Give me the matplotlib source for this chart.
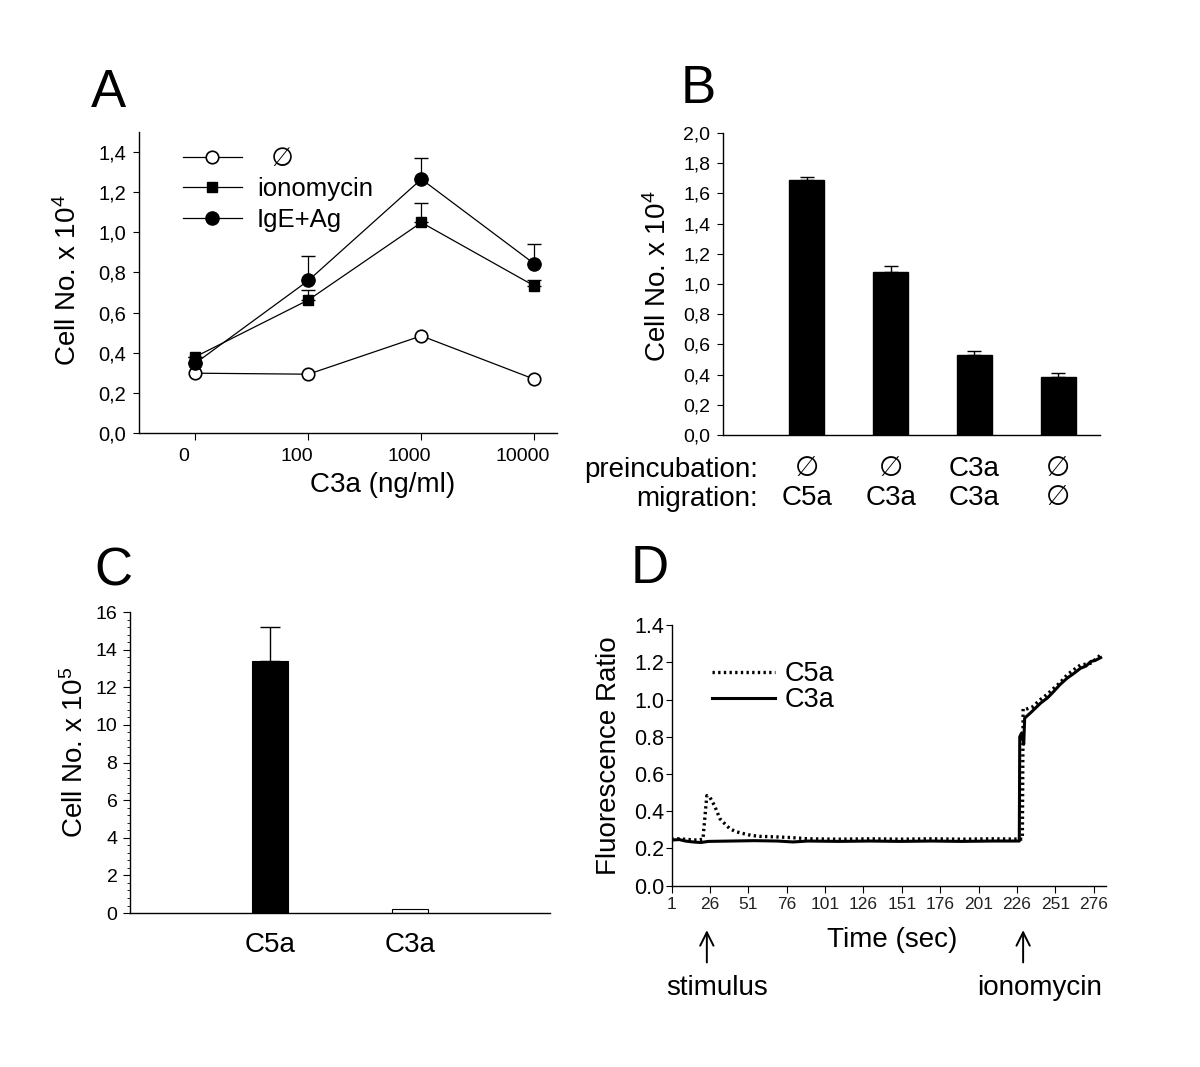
import matplotlib
matplotlib.use("Agg")
import matplotlib.pyplot as plt
import matplotlib.transforms as mtransforms

plt.rcParams['font.family'] = ['Liberation Sans', 'DejaVu Sans']
plt.rcParams['mathtext.fontset'] = 'custom'
plt.rcParams['mathtext.rm'] = 'Liberation Sans'
plt.rcParams['mathtext.it'] = 'Liberation Sans'

# Panel A : migration vs C3a dose
dose_labels = ["0", "100", "1000", "10000"]
none_vals = [0.298, 0.293, 0.484, 0.268]
iono_vals = [0.38, 0.663, 1.049, 0.733]
iono_err = [0.0, 0.05, 0.097, 0.027]
ige_vals = [0.348, 0.76, 1.265, 0.843]
ige_err = [0.0, 0.12, 0.105, 0.10]
a_yticks = ["0,0", "0,2", "0,4", "0,6", "0,8", "1,0", "1,2", "1,4"]

# Panel B : preincubation / migration bars
b_vals = [1.69, 1.08, 0.53, 0.385]
b_err = [0.02, 0.04, 0.025, 0.025]
b_preinc = ["∅", "∅", "C3a", "∅"]
b_migr = ["C5a", "C3a", "C3a", "∅"]
b_yticks = ["0,0", "0,2", "0,4", "0,6", "0,8", "1,0", "1,2", "1,4", "1,6", "1,8", "2,0"]

# Panel C
c_names = ["C5a", "C3a"]
c_vals = [13.4, 0.2]
c_err = [1.8, 0.0]

# Panel D : fluorescence traces
c5a_t = [1, 6, 12, 18, 21.5, 22, 24, 26, 29, 32.5, 36, 39, 43, 47.8, 53, 58.7, 70, 80, 90,
         110, 130, 150, 170, 190, 210, 229.5, 230.0, 231.3, 236, 241.3, 246, 250, 254,
         258.7, 263, 267.4, 271, 274, 277, 280.5]
c5a_v = [0.25, 0.252, 0.248, 0.245, 0.25, 0.30, 0.484, 0.475, 0.43, 0.36, 0.33, 0.306, 0.29,
         0.28, 0.27, 0.265, 0.262, 0.258, 0.252, 0.25, 0.252, 0.25, 0.252, 0.25, 0.252, 0.25,
         0.95, 0.946, 0.96, 1.0, 1.03, 1.061, 1.09, 1.133, 1.16, 1.186, 1.19, 1.195, 1.215, 1.24]
c3a_t = [1, 6, 10, 15, 20, 25, 40, 55, 70, 80, 90, 110, 130, 150, 170, 190, 210, 227.5, 227.8,
         229, 230.4, 231, 235, 241.3, 246, 250, 254, 258.7, 263, 267.4, 271, 274, 277, 280.5]
c3a_v = [0.245, 0.248, 0.24, 0.235, 0.232, 0.238, 0.24, 0.242, 0.24, 0.235, 0.24, 0.238, 0.24,
         0.238, 0.24, 0.238, 0.24, 0.24, 0.80, 0.82, 0.76, 0.90, 0.93, 0.98, 1.01, 1.044, 1.08,
         1.115, 1.14, 1.168, 1.18, 1.204, 1.21, 1.225]
d_xticks = [1, 26, 51, 76, 101, 126, 151, 176, 201, 226, 251, 276]
d_yticks = ["0.0", "0.2", "0.4", "0.6", "0.8", "1.0", "1.2", "1.4"]

fig = plt.figure(figsize=(12, 10.67), dpi=100)

def clean(ax):
    ax.spines['top'].set_visible(False)
    ax.spines['right'].set_visible(False)
    for s in ['left', 'bottom']:
        ax.spines[s].set_linewidth(1.0)

# ---------------- A
axA = fig.add_axes([0.1158, 0.5942, 0.3483, 0.2821])
clean(axA)
xs = list(range(len(dose_labels)))
axA.errorbar(xs, iono_vals, yerr=[[0] * 4, iono_err], fmt='none', ecolor='black',
             elinewidth=0.9, capsize=5, zorder=2)
axA.errorbar(xs, ige_vals, yerr=[[0] * 4, ige_err], fmt='none', ecolor='black',
             elinewidth=0.9, capsize=5, zorder=2)
axA.plot(xs, none_vals, '-o', color='black', mfc='white', mec='black', ms=9, lw=0.9,
         mew=1.2, label="  ∅", zorder=3)
axA.plot(xs, iono_vals, '-s', color='black', ms=7.5, lw=0.9, label="ionomycin", zorder=4)
axA.plot(xs, ige_vals, '-o', color='black', ms=9.5, lw=0.9, label="IgE+Ag", zorder=5)
axA.set_xlim(-0.5, 3.2)
axA.set_ylim(0, 1.5)
axA.set_xticks(xs)
axA.set_xticklabels(dose_labels, fontsize=14)
axA.set_yticks([i * 0.2 for i in range(8)])
axA.set_yticklabels(a_yticks, fontsize=14.5)
axA.tick_params(axis='x', direction='out', length=5, pad=6)
axA.tick_params(axis='y', direction='out', length=4, pad=5)
off = mtransforms.ScaledTranslation(-12 / 100, 0, fig.dpi_scale_trans)
for lab in axA.get_xticklabels():
    lab.set_transform(lab.get_transform() + off)
axA.set_xlabel("C3a (ng/ml)", fontsize=20)
axA.xaxis.label.set_va('center')
axA.xaxis.set_label_coords(0.584, -0.173)
axA.set_ylabel("Cell No. x 10$^4$", fontsize=20)
axA.yaxis.label.set_va('center')
axA.yaxis.set_label_coords(-0.170, 0.508)
axA.legend(loc='upper left', bbox_to_anchor=(0.105, 0.95), frameon=False, fontsize=18.5,
           handlelength=2.3, handletextpad=0.58, labelspacing=0.25, borderpad=0,
           borderaxespad=0)

# ---------------- B
axB = fig.add_axes([0.6025, 0.5923, 0.3142, 0.2830])
clean(axB)
bx = [1, 2, 3, 4]
axB.bar(bx, b_vals, width=0.42, color='black', edgecolor='black')
axB.errorbar(bx, b_vals, yerr=[[0] * 4, b_err], fmt='none', ecolor='black',
             elinewidth=1.0, capsize=5)
axB.set_xlim(0, 4.5)
axB.set_ylim(0, 2.0)
axB.set_yticks([i * 0.2 for i in range(11)])
axB.set_yticklabels(b_yticks, fontsize=14)
axB.tick_params(axis='y', direction='out', length=4, pad=5)
axB.set_xticks(bx)
axB.set_xticklabels([p + "\n" + m for p, m in zip(b_preinc, b_migr)], fontsize=20,
                    linespacing=1.15)
axB.tick_params(axis='x', length=0, pad=15)
axB.text(0.093, -0.116, "preincubation:", transform=axB.transAxes, fontsize=20,
         ha='right', va='center')
axB.text(0.093, -0.212, "migration:", transform=axB.transAxes, fontsize=20,
         ha='right', va='center')
axB.set_ylabel("Cell No. x 10$^4$", fontsize=20)
axB.yaxis.label.set_va('center')
axB.yaxis.set_label_coords(-0.172, 0.527)

# ---------------- C
axC = fig.add_axes([0.1083, 0.1443, 0.35, 0.2821])
clean(axC)
cx = [1, 2]
axC.bar(cx, c_vals, width=0.26, color=['black', 'white'], edgecolor='black', linewidth=0.8)
axC.errorbar(cx[:1], c_vals[:1], yerr=[[0], c_err[:1]], fmt='none', ecolor='black',
             elinewidth=1.0, capsize=7)
axC.set_xlim(0, 3)
axC.set_ylim(0, 16)
axC.set_yticks(range(0, 17, 2))
axC.set_yticks([i * 0.4 for i in range(41)], minor=True)
axC.tick_params(axis='y', which='major', direction='out', length=5, labelsize=14, pad=4)
axC.tick_params(axis='y', which='minor', direction='out', length=2.5, width=0.6)
axC.set_xticks(cx)
axC.set_xticklabels(c_names, fontsize=20)
axC.tick_params(axis='x', length=0, pad=14)
axC.set_ylabel("Cell No. x 10$^5$", fontsize=20)
axC.yaxis.label.set_va('center')
axC.yaxis.set_label_coords(-0.131, 0.535)

# ---------------- D
axD = fig.add_axes([0.5596, 0.1699, 0.3621, 0.2443])
clean(axD)
axD.plot(c5a_t, c5a_v, color='black', lw=2.4, linestyle=(0, (0.7, 1.0)), label="C5a")
axD.plot(c3a_t, c3a_v, color='black', lw=2.2, linestyle='-', label="C3a")
axD.set_xlim(1, 284)
axD.set_ylim(0, 1.4)
axD.set_xticks(d_xticks)
axD.set_xticklabels([str(t) for t in d_xticks], fontsize=12.5, color='#222222')
axD.set_yticks([i * 0.2 for i in range(8)])
axD.set_yticklabels(d_yticks, fontsize=15.5)
axD.tick_params(axis='x', direction='out', length=5, pad=3)
axD.tick_params(axis='y', direction='out', length=4, pad=1)
axD.set_xlabel("Time (sec)", fontsize=20)
axD.xaxis.label.set_va('center')
axD.xaxis.set_label_coords(0.507, -0.208)
axD.set_ylabel("Fluorescence Ratio", fontsize=20)
axD.yaxis.label.set_va('center')
axD.yaxis.set_label_coords(-0.144, 0.498)
axD.legend(loc='upper left', bbox_to_anchor=(0.094, 0.862), frameon=False, fontsize=19.5,
           handlelength=2.3, handletextpad=0.38, labelspacing=0.0, borderpad=0,
           borderaxespad=0)
for t_arrow in [24, 230]:
    axD.annotate("", xy=(t_arrow, -0.16), xytext=(t_arrow, -0.305),
                 xycoords=('data', 'axes fraction'), textcoords=('data', 'axes fraction'),
                 arrowprops=dict(arrowstyle='->', lw=1.4, color='black',
                                 mutation_scale=24))
axD.text(0.105, -0.393, "stimulus", transform=axD.transAxes, fontsize=20,
         ha='center', va='center')
axD.text(0.848, -0.393, "ionomycin", transform=axD.transAxes, fontsize=20,
         ha='center', va='center')

# panel letters
for x, y, s in [(91, 107, "A"), (681, 103, "B"), (94, 586, "C"), (631, 583, "D")]:
    fig.text(x / 1200, 1 - y / 1067, s, fontsize=38, ha='left', va='baseline')

fig.savefig("out.png", dpi=100)
